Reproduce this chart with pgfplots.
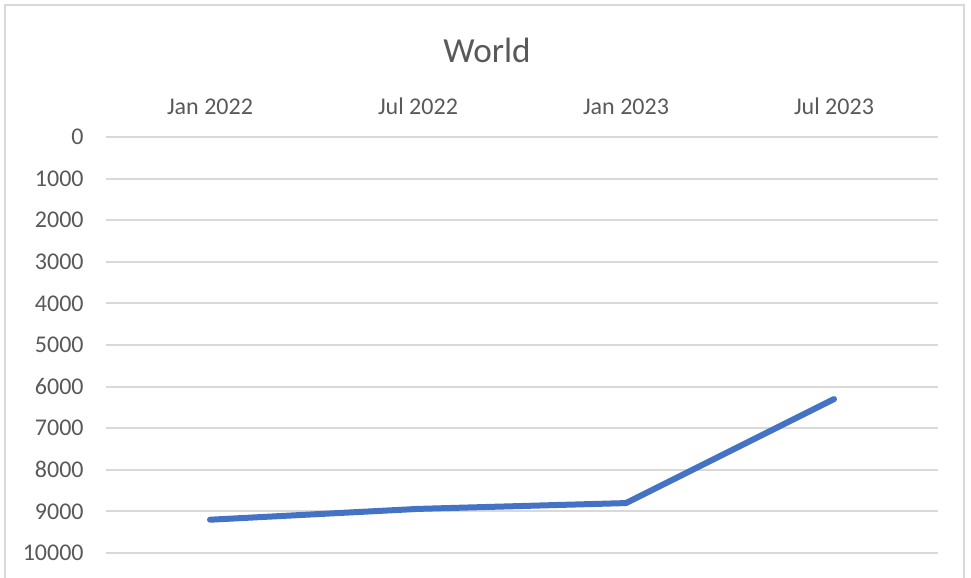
\documentclass[border=0pt]{standalone}
\usepackage{fontspec}
\setmainfont{Carlito}
\usepackage{pgfplots}
\pgfplotsset{compat=1.18}
\definecolor{linblue}{HTML}{4472C4}
\definecolor{gridgray}{HTML}{D9D9D9}
\definecolor{txtgray}{HTML}{595959}
\begin{document}
\begin{tikzpicture}[x=0.5pt,y=0.5pt]
\useasboundingbox (-106,-25) rectangle (865,553);
\draw[gridgray, line width=0.7pt] (-101,-40) -- (-101,548) -- (858,548) -- (858,-40);
\node[txtgray, font=\fontsize{17.6}{20}\selectfont] at (381,503) {World};
\begin{axis}[
    at={(0,0)}, anchor=south west,
    scale only axis,
    width=416pt, height=208pt,
    y dir=reverse,
    xmin=-0.5, xmax=3.5,
    ymin=0, ymax=10000,
    xtick={0,1,2,3},
    xticklabels={Jan 2022,Jul 2022,Jan 2023,Jul 2023},
    xticklabel pos=right,
    ytick distance=1000,
    ymajorgrids,
    grid style={gridgray, line width=1pt},
    axis line style={draw=none},
    major tick length=0pt,
    tick style={draw=none},
    ticklabel style={font=\fontsize{12}{14}\selectfont, text=txtgray, inner sep=0pt},
    xticklabel style={anchor=south, yshift=11pt},
    yticklabel style={anchor=east, xshift=-11pt},
    /pgf/number format/assume math mode=true,
    /pgf/number format/set thousands separator={},
    scaled y ticks=false,
    clip=false,
]
\addplot[linblue, line width=3pt, line cap=round, line join=round] coordinates {
    (0,9200) (1,8940) (2,8800) (3,6300)
};
\end{axis}
\end{tikzpicture}
\end{document}
